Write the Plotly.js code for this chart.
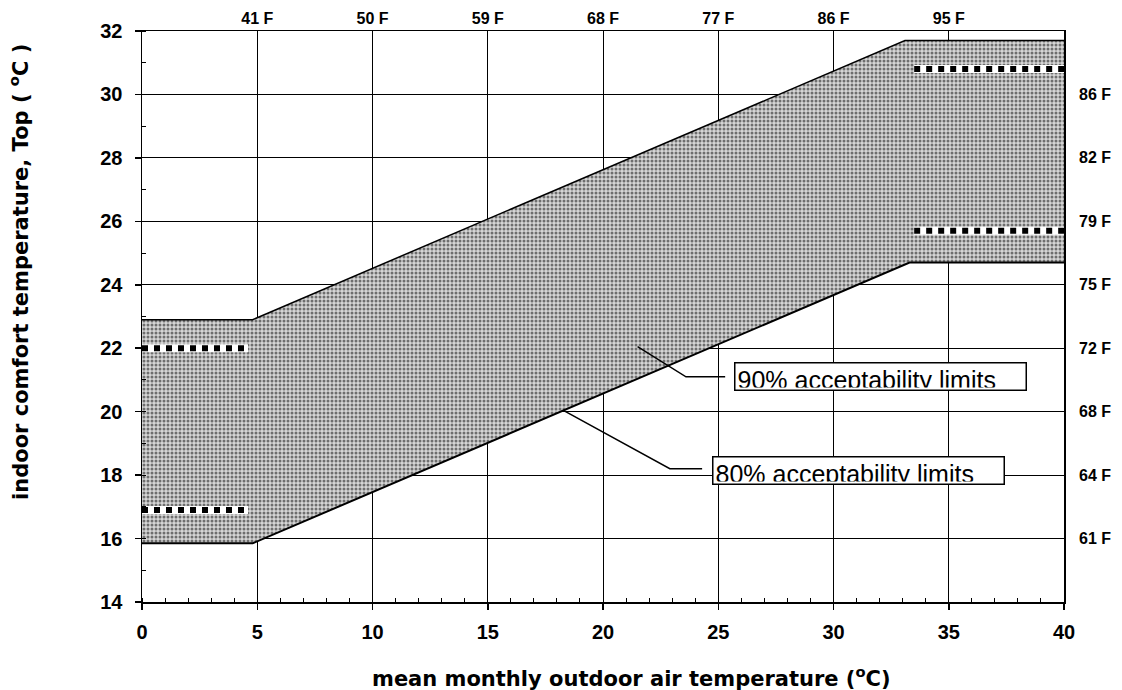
<!DOCTYPE html>
<html>
<head>
<meta charset="utf-8">
<script src="https://cdn.plot.ly/plotly-3.0.1.min.js"></script>
<style>html,body{margin:0;padding:0;background:#fff;}#chart{width:1122px;height:690px;}</style>
</head>
<body>
<div id="chart"></div>
<script>
// ---- data ----
const upperX = [0, 4.8, 33.1, 40];
const upperY = [22.9, 22.9, 31.7, 31.7];
const lowerX = [0, 4.8, 33.3, 40];
const lowerY = [15.85, 15.85, 24.7, 24.7];

const dotLeftX = [0, 4.6];
const dotLeftUpperY = [22.0, 22.0];
const dotLeftLowerY = [16.9, 16.9];
const dotRightX = [33.5, 40];
const dotRightUpperY = [30.8, 30.8];
const dotRightLowerY = [25.7, 25.7];

const leader90X = [21.5, 23.6, 25.3];
const leader90Y = [22.05, 21.1, 21.1];
const leader80X = [18.26, 22.9, 24.3];
const leader80Y = [20.05, 18.2, 18.2];

const label90 = {text: '90% acceptability limits', x: 32.04, y: 21.11};
const label80 = {text: '80% acceptability limits', x: 31.08, y: 18.14};

const topTickVals = [5, 10, 15, 20, 25, 30, 35];
const topTickText = ['41 F', '50 F', '59 F', '68 F', '77 F', '86 F', '95 F'];
const rightTickVals = [16, 18, 20, 22, 24, 26, 28, 30];
const rightTickText = ['61 F', '64 F', '68 F', '72 F', '75 F', '79 F', '82 F', '86 F'];

const xTitle = 'mean monthly outdoor air temperature (<sup>o</sup>C)';
const yTitle = 'indoor comfort temperature, Top ( <sup>o</sup>C )';

// ---- traces ----
const bandX = upperX.concat(lowerX.slice().reverse());
const bandY = upperY.concat(lowerY.slice().reverse());

const traces = [
  {x: bandX, y: bandY, type: 'scatter', mode: 'lines', fill: 'toself',
   fillcolor: '#c4c4c4',
   fillpattern: {shape: '.', fgcolor: '#6e6e6e', bgcolor: '#d6d6d6', size: 4, solidity: 0.45},
   line: {width: 0}, hoverinfo: 'skip'},
  {x: upperX, y: upperY, type: 'scatter', mode: 'lines', line: {color: 'black', width: 1.5}},
  {x: lowerX, y: lowerY, type: 'scatter', mode: 'lines', line: {color: 'black', width: 2}},
];
[[dotLeftX, dotLeftUpperY], [dotLeftX, dotLeftLowerY], [dotRightX, dotRightUpperY], [dotRightX, dotRightLowerY]].forEach(function (d) {
  traces.push({x: d[0], y: d[1], type: 'scatter', mode: 'lines', line: {color: 'white', width: 8}});
  traces.push({x: d[0], y: d[1], type: 'scatter', mode: 'lines', line: {color: 'black', width: 6, dash: 'dot'}});
});
traces.push({x: leader90X, y: leader90Y, type: 'scatter', mode: 'lines', line: {color: 'black', width: 1.5}});
traces.push({x: leader80X, y: leader80Y, type: 'scatter', mode: 'lines', line: {color: 'black', width: 1.5}});
traces.push({x: [null], y: [null], xaxis: 'x2', yaxis: 'y2', type: 'scatter', mode: 'markers', showlegend: false});

const tickFont = {family: 'Liberation Sans, Arial, sans-serif', size: 20, color: 'black', weight: 'bold'};
const secFont = {family: 'Liberation Sans, Arial, sans-serif', size: 16, color: 'black', weight: 'bold'};
const titleFont = {family: 'DejaVu Sans, sans-serif', size: 21, color: 'black', weight: 'bold'};

function boxAnn(l) {
  return {xref: 'x', yref: 'y', x: l.x, y: l.y, text: l.text, showarrow: false,
    xanchor: 'center', yanchor: 'middle', align: 'left', valign: 'top',
    width: 286, height: 22, borderpad: 2, bordercolor: 'black', borderwidth: 1.5, bgcolor: 'white',
    font: {family: 'Liberation Sans, Arial, sans-serif', size: 25, color: 'black'}};
}

const layout = {
  width: 1122, height: 690,
  margin: {l: 142, r: 58, t: 31, b: 88, pad: 0},
  paper_bgcolor: 'white', plot_bgcolor: 'white',
  showlegend: false,
  xaxis: {range: [0, 40], tick0: 0, dtick: 5, showgrid: true, gridcolor: 'black', gridwidth: 1,
    zeroline: false, showline: true, linecolor: 'black', linewidth: 1.5, mirror: true,
    ticks: 'outside', ticklen: 6, tickcolor: 'black', tickwidth: 1.5, ticklabelstandoff: 5,
    tickfont: tickFont,
    minor: {dtick: 1, ticks: 'inside', ticklen: 4, tickcolor: 'black', tickwidth: 1, showgrid: false}},
  yaxis: {range: [14, 32], tick0: 14, dtick: 2, showgrid: true, gridcolor: 'black', gridwidth: 1,
    zeroline: false, showline: true, linecolor: 'black', linewidth: 1.5, mirror: true,
    ticks: 'outside', ticklen: 6, tickcolor: 'black', tickwidth: 1.5, ticklabelstandoff: 8,
    tickfont: tickFont,
    minor: {dtick: 1, ticks: 'inside', ticklen: 4, tickcolor: 'black', tickwidth: 1, showgrid: false}},
  xaxis2: {overlaying: 'x', side: 'top', anchor: 'y', range: [0, 40], tickmode: 'array',
    tickvals: topTickVals, ticktext: topTickText, showgrid: false, showline: false, zeroline: false,
    ticks: '', ticklabelstandoff: 3, tickfont: secFont},
  yaxis2: {overlaying: 'y', side: 'right', anchor: 'x', range: [14, 32], tickmode: 'array',
    tickvals: rightTickVals, ticktext: rightTickText, showgrid: false, showline: false, zeroline: false,
    ticks: '', ticklabelstandoff: 14, tickfont: secFont},
  annotations: [
    boxAnn(label90), boxAnn(label80),
    {xref: 'paper', yref: 'paper', x: 0.531, y: 0, yshift: -75, xanchor: 'center', yanchor: 'middle',
     text: xTitle, showarrow: false, font: titleFont},
    {xref: 'paper', yref: 'paper', x: 0, xshift: -123, y: 0.578, xanchor: 'center', yanchor: 'middle',
     text: yTitle, textangle: -90, showarrow: false, font: titleFont}
  ]
};

Plotly.newPlot('chart', traces, layout, {displayModeBar: false, staticPlot: true});
</script>
</body>
</html>
